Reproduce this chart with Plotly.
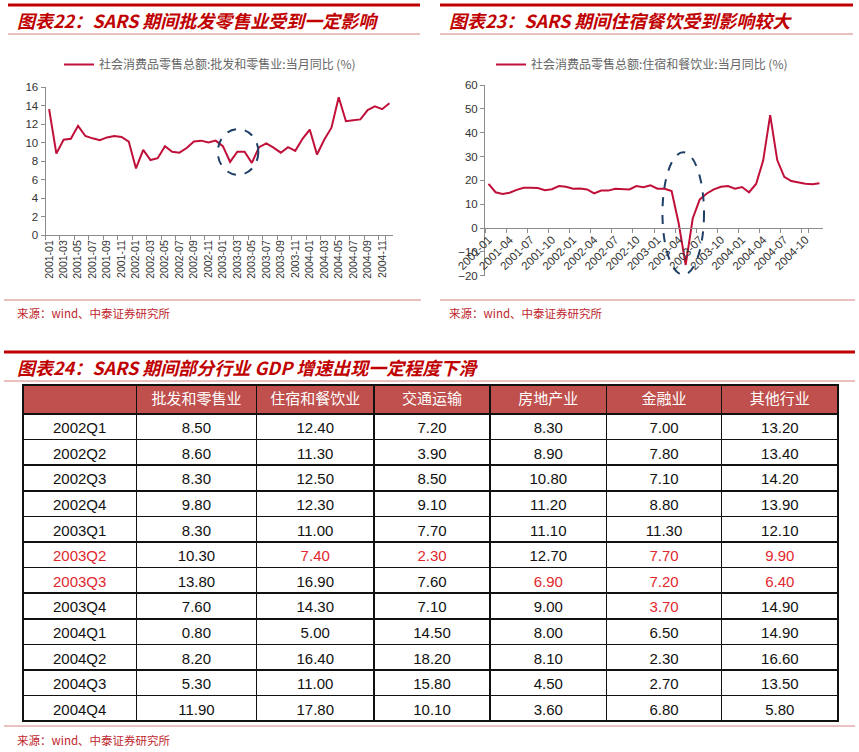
import plotly.graph_objects as go

W, H = 859, 752


def fx(px):
    return px / W


def fy(py):
    return 1 - py / H


# ---------------- data ----------------
months = [f"{y}-{m:02d}" for y in range(2001, 2005) for m in range(1, 13)]

retail_yoy = [13.6, 8.8, 10.3, 10.4, 11.8, 10.7, 10.45, 10.25, 10.55, 10.7, 10.6, 10.1,
              7.2, 9.2, 8.1, 8.3, 9.6, 9.0, 8.9, 9.4, 10.1, 10.2, 10.0, 10.2,
              9.6, 7.9, 9.0, 9.0, 7.8, 9.5, 9.9, 9.45, 8.9, 9.5, 9.1, 10.4,
              11.4, 8.7, 10.3, 11.6, 14.9, 12.3, 12.4, 12.5, 13.5, 13.9, 13.6, 14.25]

catering_yoy = [18.5, 15.0, 14.3, 14.8, 16.0, 16.9, 16.9, 16.8, 15.9, 16.3, 17.6, 17.3,
                16.5, 16.6, 16.2, 14.5, 15.7, 15.7, 16.5, 16.5, 16.2, 17.6, 17.1, 17.9,
                16.5, 16.5, 15.5, 2.0, -15.5, 4.0, 12.0, 14.5, 16.2, 17.3, 17.6, 16.5,
                17.2, 15.0, 18.5, 28.3, 47.4, 28.5, 21.5, 19.7, 19.0, 18.6, 18.4, 18.8]

retail_name = "社会消费品零售总额:批发和零售业:当月同比 (%)"
catering_name = "社会消费品零售总额:住宿和餐饮业:当月同比 (%)"

quarters = ["2002Q1", "2002Q2", "2002Q3", "2002Q4", "2003Q1", "2003Q2",
            "2003Q3", "2003Q4", "2004Q1", "2004Q2", "2004Q3", "2004Q4"]
industries = ["批发和零售业", "住宿和餐饮业", "交通运输", "房地产业", "金融业", "其他行业"]
gdp_wholesale = [8.50, 8.60, 8.30, 9.80, 8.30, 10.30, 13.80, 7.60, 0.80, 8.20, 5.30, 11.90]
gdp_hotel = [12.40, 11.30, 12.50, 12.30, 11.00, 7.40, 16.90, 14.30, 5.00, 16.40, 11.00, 17.80]
gdp_transport = [7.20, 3.90, 8.50, 9.10, 7.70, 2.30, 7.60, 7.10, 14.50, 18.20, 15.80, 10.10]
gdp_realestate = [8.30, 8.90, 10.80, 11.20, 11.10, 12.70, 6.90, 9.00, 8.00, 8.10, 4.50, 3.60]
gdp_finance = [7.00, 7.80, 7.10, 8.80, 11.30, 7.70, 7.20, 3.70, 6.50, 2.30, 2.70, 6.80]
gdp_other = [13.20, 13.40, 14.20, 13.90, 12.10, 9.90, 6.40, 14.90, 14.90, 16.60, 13.50, 5.80]

# highlighted (red) cells: (row index, column index incl. label column)
highlighted = [(5, 0), (5, 2), (5, 3), (5, 5), (5, 6),
               (6, 0), (6, 4), (6, 5), (6, 6),
               (7, 5)]

# ---------------- style ----------------
LINE = "#C0103A"
TITLE_RED = "#C00000"
THIN_RED = "#D98080"
SRC_RED = "#C0262D"
AXIS = "#8C8C8C"
CJK = "Noto Sans CJK SC"
LAT = "Liberation Sans, Arial"

fig = go.Figure()

fig.add_trace(go.Scatter(x=months, y=retail_yoy, mode="lines", name=retail_name,
                         line=dict(color=LINE, width=2), xaxis="x", yaxis="y",
                         legend="legend", showlegend=True))
fig.add_trace(go.Scatter(x=months, y=catering_yoy, mode="lines", name=catering_name,
                         line=dict(color=LINE, width=2), xaxis="x2", yaxis="y2",
                         legend="legend2", showlegend=True))

cols = [gdp_wholesale, gdp_hotel, gdp_transport, gdp_realestate, gdp_finance, gdp_other]
cell_values = [quarters] + [[f"{v:.2f}" for v in c] for c in cols]
font_colors = [["#111111"] * len(quarters) for _ in range(len(cell_values))]
for r, c in highlighted:
    font_colors[c][r] = "#E0282E"

fig.add_trace(go.Table(
    domain=dict(x=[fx(23), fx(838)], y=[fy(723), fy(385)]),
    columnwidth=[113, 120, 117, 116, 116, 115, 116],
    header=dict(values=[""] + industries, fill_color="#C0504D",
                font=dict(family=CJK, size=15, color="white"),
                line=dict(color="#111111", width=1.5), height=29, align="center"),
    cells=dict(values=cell_values, fill_color="white",
               font=dict(family=LAT, size=15, color=font_colors),
               line=dict(color="#111111", width=1.5), height=25.6, align="center"),
))


def axis_style(size=11):
    return dict(showline=True, linecolor=AXIS, linewidth=1, ticks="outside",
                ticklen=4, tickcolor=AXIS, showgrid=False, zeroline=False,
                automargin=False,
                tickfont=dict(family=LAT, size=size, color="#333333"))


fig.update_layout(
    template="none",
    width=W, height=H, margin=dict(l=0, r=0, t=0, b=0, autoexpand=False),
    paper_bgcolor="white", plot_bgcolor="white", showlegend=True,
    xaxis=dict(domain=[fx(45.5), fx(393)], anchor="y", type="category",
               categoryorder="array", categoryarray=months, range=[-0.5, 47.5],
               tickmode="array", tickvals=months[::2], tickangle=-90,
               tickson="boundaries", **axis_style(10.5)),
    yaxis=dict(domain=[fy(235), fy(87)], anchor="x", range=[0, 16], dtick=2,
               **axis_style(11.5)),
    xaxis2=dict(domain=[fx(485), fx(823)], anchor="free", position=fy(227.7),
                type="category", categoryorder="array", categoryarray=months,
                range=[-0.5, 47.5], tickmode="array", tickvals=months[::3],
                tickangle=-45, tickson="boundaries", **axis_style(11.5)),
    yaxis2=dict(domain=[fy(275.7), fy(85)], anchor="x2", range=[-20, 60], dtick=10,
                **axis_style(11.5)),
    legend=dict(x=fx(59), y=fy(50), xanchor="left", yanchor="top", orientation="h",
                bgcolor="rgba(0,0,0,0)", borderwidth=0,
                font=dict(family=CJK, size=12, color="#666666")),
    legend2=dict(x=fx(491), y=fy(50), xanchor="left", yanchor="top", orientation="h",
                 bgcolor="rgba(0,0,0,0)", borderwidth=0,
                 font=dict(family=CJK, size=12, color="#666666")),
)

shapes = []


def hline(x0, x1, y, color, width):
    shapes.append(dict(type="line", xref="paper", yref="paper",
                       x0=fx(x0), x1=fx(x1), y0=fy(y), y1=fy(y),
                       line=dict(color=color, width=width)))


hline(8, 420, 5, TITLE_RED, 3)
hline(440, 853, 5, TITLE_RED, 3)
hline(8, 420, 34, THIN_RED, 1)
hline(440, 853, 34, THIN_RED, 1)
hline(4, 421, 300, THIN_RED, 1)
hline(440, 855, 300, THIN_RED, 1)
hline(4, 855, 352, TITLE_RED, 3)
hline(4, 855, 381, THIN_RED, 1)
hline(4, 855, 726, THIN_RED, 1)

# dashed ellipses highlighting the SARS period
shapes.append(dict(type="circle", xref="x", yref="y", x0=23.3, x1=28.9, y0=6.5, y1=11.45,
                   line=dict(color="#1F3F66", width=2, dash="dash")))
shapes.append(dict(type="circle", xref="x2", yref="y2", x0=24.7, x1=30.6, y0=-19.6, y1=31.8,
                   line=dict(color="#1F3F66", width=2, dash="dash")))
fig.update_layout(shapes=shapes)

annotations = []


def text(x, y, s, size, color, family=CJK):
    annotations.append(dict(xref="paper", yref="paper", x=fx(x), y=fy(y), text=s,
                            showarrow=False, xanchor="left", yanchor="middle",
                            font=dict(family=family, size=size, color=color)))


text(15, 20, "<b><i>图表22：SARS 期间批发零售业受到一定影响</i></b>", 18, TITLE_RED)
text(447, 20, "<b><i>图表23：SARS 期间住宿餐饮受到影响较大</i></b>", 18, TITLE_RED)
text(15, 367, "<b><i>图表24：SARS 期间部分行业 GDP 增速出现一定程度下滑</i></b>", 18, TITLE_RED)
text(15, 313, "来源：wind、中泰证券研究所", 11.5, SRC_RED)
text(447, 313, "来源：wind、中泰证券研究所", 11.5, SRC_RED)
text(15, 740, "来源：wind、中泰证券研究所", 11.5, SRC_RED)
fig.update_layout(annotations=annotations)

fig.write_html("out.html", config={"displayModeBar": False},
               post_script="document.body.style.margin='0';document.body.style.overflow='hidden';")
